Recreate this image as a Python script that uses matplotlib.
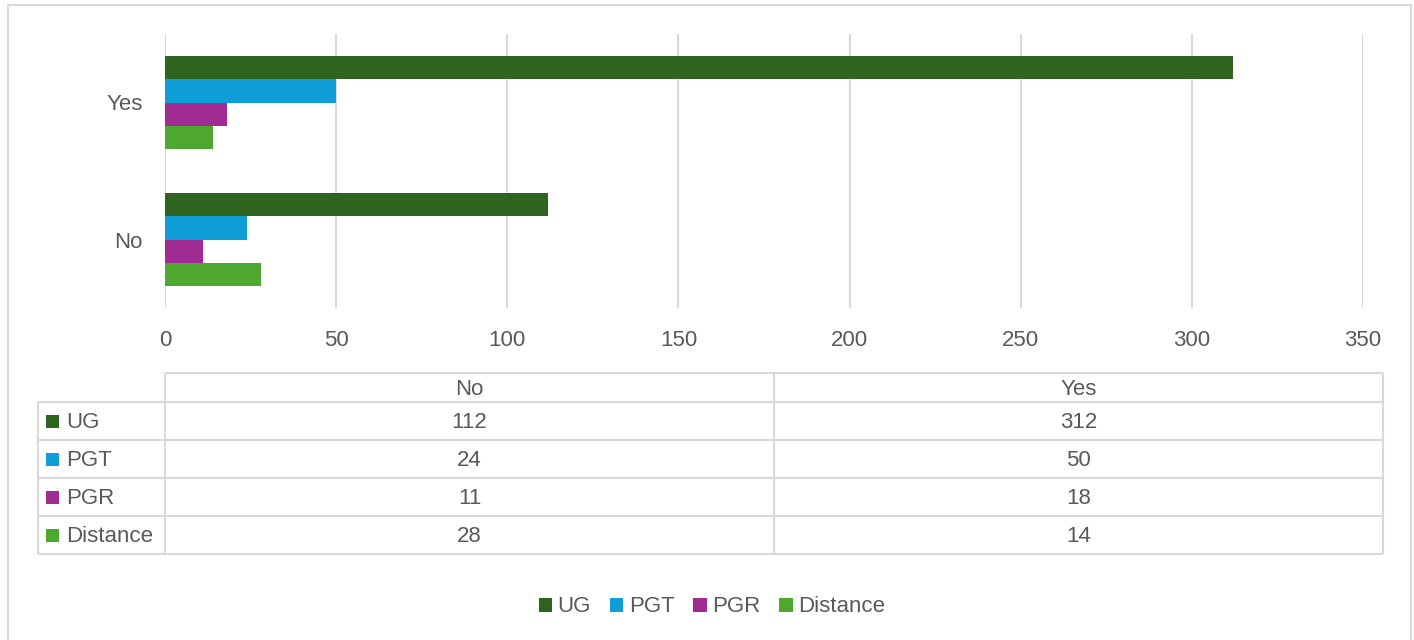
import matplotlib
matplotlib.use("Agg")
import matplotlib.pyplot as plt
from matplotlib.patches import Patch, Rectangle

categories = ["No", "Yes"]
series = ["UG", "PGT", "PGR", "Distance"]
ug = [112, 312]
pgt = [24, 50]
pgr = [11, 18]
distance = [28, 14]
xticks = [0, 50, 100, 150, 200, 250, 300, 350]

colors = ["#2E6320", "#0F9ED5", "#A02B93", "#4EA72E"]
values = [ug, pgt, pgr, distance]
TXT = "#595959"
GRID = "#D9D9D9"
FS = 16

plt.rcParams["font.family"] = ["Liberation Sans", "DejaVu Sans"]

W, H = 1414, 640
fig = plt.figure(figsize=(W / 100, H / 100), dpi=100)

# bar chart area (pixel box converted to figure fractions)
left, right, top, bottom = 165, 1363, 34, 308
ax = fig.add_axes([left / W, 1 - bottom / H, (right - left) / W, (bottom - top) / H])

bh = 0.1715
for i, (name, vals, c) in enumerate(zip(series, values, colors)):
    offset = (1.5 - i) * bh
    ax.barh([k + offset for k in range(len(categories))], vals, height=bh,
            color=c, linewidth=0, zorder=3)

ax.set_xlim(0, 350)
ax.set_ylim(-0.5, 1.5)
ax.set_xticks(xticks)
ax.set_yticks(range(len(categories)))
ax.set_yticklabels(categories)
ax.grid(axis="x", color=GRID, linewidth=1.5, zorder=0)
ax.tick_params(axis="both", length=0, labelsize=FS, labelcolor=TXT)
ax.tick_params(axis="x", pad=16)
ax.tick_params(axis="y", pad=16)
for s in ax.spines.values():
    s.set_visible(False)

# overlay in pixel units for the data table and chart border
ov = fig.add_axes([0, 0, 1, 1], facecolor="none")
ov.set_xlim(0, W)
ov.set_ylim(H, 0)
ov.axis("off")

ov.add_patch(Rectangle((8, 5), 1403, 660, fill=False, edgecolor=GRID, linewidth=1.5))

xs = [38, 165, 774, 1383]
ys = [373, 402, 440, 478, 516, 554]
lw = 1.5
dy = 2  # nudge text down so caps sit centred in the cells
ov.hlines(ys[0], xs[1], xs[3], color=GRID, lw=lw)
ov.hlines(ys[1:], xs[0], xs[3], color=GRID, lw=lw)
ov.vlines(xs[0], ys[1], ys[-1], color=GRID, lw=lw)
ov.vlines(xs[1:], ys[0], ys[-1], color=GRID, lw=lw)

for j, cat in enumerate(categories):
    cx = (xs[j + 1] + xs[j + 2]) / 2
    ov.text(cx, (ys[0] + ys[1]) / 2 + dy, cat, ha="center", va="center",
            fontsize=FS, color=TXT)
    for i, vals in enumerate(values):
        cy = (ys[i + 1] + ys[i + 2]) / 2
        ov.text(cx, cy + dy, str(vals[j]), ha="center", va="center",
                fontsize=FS, color=TXT)

for i, (name, c) in enumerate(zip(series, colors)):
    cy = (ys[i + 1] + ys[i + 2]) / 2
    ov.add_patch(Rectangle((46, cy - 6.5), 13, 13, color=c, linewidth=0))
    ov.text(66, cy + dy, name, ha="left", va="center", fontsize=FS, color=TXT)

handles = [Patch(facecolor=c, edgecolor="none", label=n) for n, c in zip(series, colors)]
fig.legend(handles=handles, loc="center", bbox_to_anchor=(712 / W, 1 - 607 / H),
           ncol=4, frameon=False, fontsize=FS, labelcolor=TXT,
           handlelength=0.6, handleheight=0.6, handletextpad=0.25,
           columnspacing=0.85)

fig.savefig("out.png", dpi=100)
